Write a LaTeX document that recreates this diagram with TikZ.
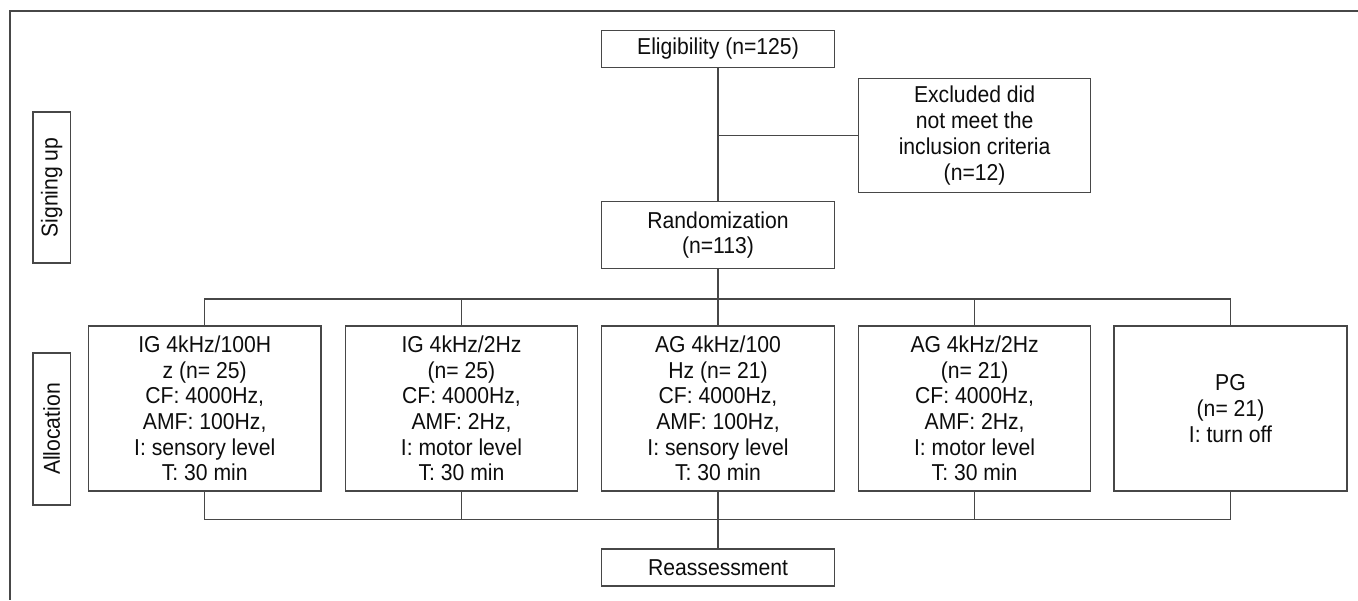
\documentclass[tikz,border=0pt]{standalone}
\usepackage{fontspec}
\setmainfont{Liberation Sans}[FakeStretch=0.92]
\begin{document}
\begin{tikzpicture}[x=1pt,y=-1pt,
  line width=1.3pt,
  every node/.style={text=black!95},
  box/.style={draw=black!72, line width=1.3pt, inner sep=0pt, align=center,
    font=\fontsize{23}{25.7}\selectfont, minimum width=233pt},
  sidebox/.style={draw=black!72, line width=1.3pt, inner sep=0pt, rotate=90,
    font=\fontsize{23}{25.7}\selectfont, minimum height=37.5pt},
  link/.style={draw=black!72, line width=1.3pt}]
\useasboundingbox (0,0) rectangle (1358,600);
% frame
\coordinate (fa) at (1358,11);
\coordinate (fb) at (10,11);
\coordinate (fc) at (10,600);
\draw[link] (fa) -- (fb) -- (fc);
% side labels
\node[sidebox, minimum width=151pt] (sign) at (51.7,187.5) {Signing up};
\node[sidebox, minimum width=152pt] (alloc) at (51.7,429) {Allocation};
% main column
\node[box, minimum height=36.6pt] (elig) at (718,49) {Eligibility (n=125)};
\node[box, minimum width=232pt, minimum height=113.6pt] (excl) at (974.6,135.5)
  {Excluded did\\not meet the\\inclusion criteria\\(n=12)};
\node[box, minimum height=66.6pt] (rand) at (718,235) {Randomization\\(n=113)};
% groups
\node[box, minimum width=232.5pt, minimum height=165pt] (ig1) at (204.7,408.5)
  {IG 4kHz/100H\\z (n= 25)\\CF: 4000Hz,\\AMF: 100Hz,\\I: sensory level\\T: 30 min};
\node[box, minimum width=232.5pt, minimum height=165pt] (ig2) at (461.5,408.5)
  {IG 4kHz/2Hz\\(n= 25)\\CF: 4000Hz,\\AMF: 2Hz,\\I: motor level\\T: 30 min};
\node[box, minimum width=233pt, minimum height=165pt] (ag1) at (718,408.5)
  {AG 4kHz/100\\Hz (n= 21)\\CF: 4000Hz,\\AMF: 100Hz,\\I: sensory level\\T: 30 min};
\node[box, minimum width=232pt, minimum height=165pt] (ag2) at (974.6,408.5)
  {AG 4kHz/2Hz\\(n= 21)\\CF: 4000Hz,\\AMF: 2Hz,\\I: motor level\\T: 30 min};
\node[box, minimum width=233pt, minimum height=165pt] (pg) at (1230.5,408.5)
  {PG\\(n= 21)\\I: turn off};
\node[box, minimum height=37pt] (reas) at (718,567.5) {Reassessment};
% connectors
\coordinate (tb) at (718,299);
\coordinate (bb) at (718,519.3);
\draw[link] (elig) -- (rand);
\draw[link] (elig.south |- excl.west) -- (excl.west);
\draw[link] (rand.south) -- (ag1.north);
\draw[link] (ig1.north) -- (ig1.north |- tb) -- (pg.north |- tb) -- (pg.north);
\draw[link] (ig2.north) -- (ig2.north |- tb);
\draw[link] (ag2.north) -- (ag2.north |- tb);
\draw[link] (ig1.south) -- (ig1.south |- bb) -- (pg.south |- bb) -- (pg.south);
\draw[link] (ig2.south) -- (ig2.south |- bb);
\draw[link] (ag1.south) -- (reas.north);
\draw[link] (ag2.south) -- (ag2.south |- bb);
\end{tikzpicture}
\end{document}
